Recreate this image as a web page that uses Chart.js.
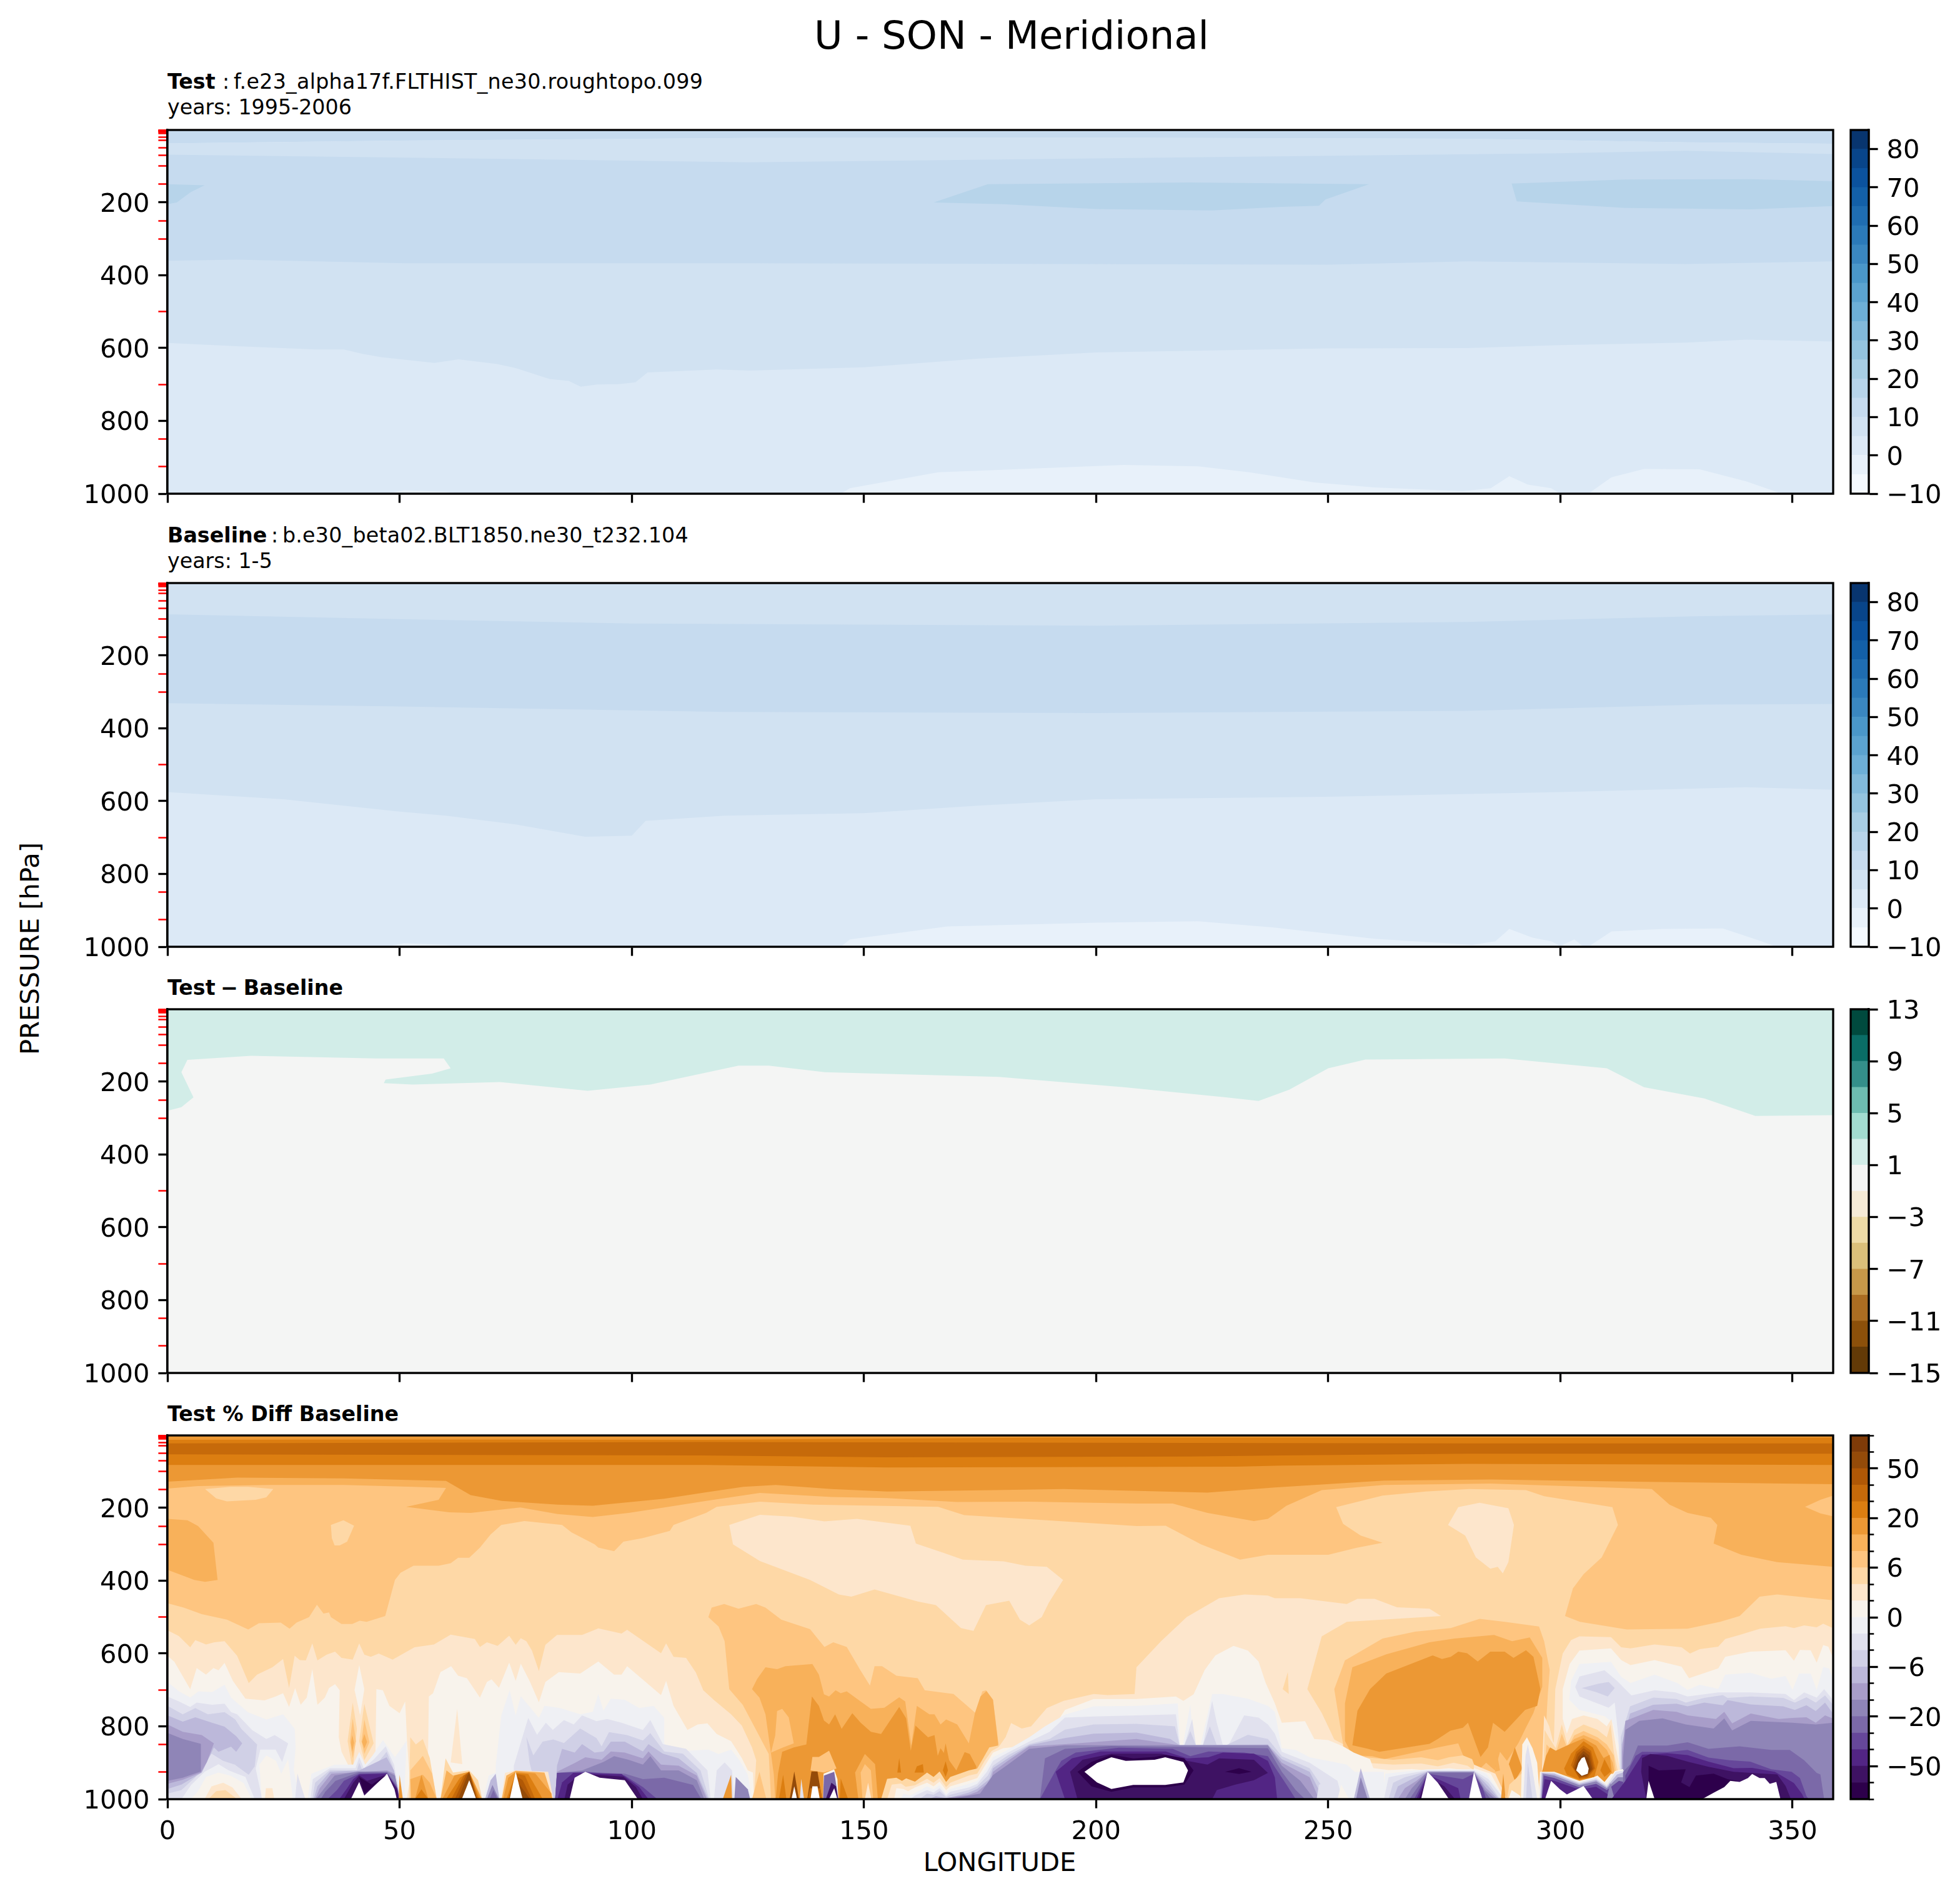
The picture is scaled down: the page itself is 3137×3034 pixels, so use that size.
<!DOCTYPE html>
<html><head><meta charset="utf-8">
<style>
html,body{margin:0;padding:0;background:#fff;width:3137px;height:3034px;overflow:hidden;font-family:"DejaVu Sans",sans-serif;color:#000}
canvas{position:absolute}
.t{position:absolute;white-space:pre;line-height:1}
.s{font-size:33.3px}
</style>
<script src="https://cdn.jsdelivr.net/npm/chart.js@4"></script>
</head><body>
<div class="t" style="left:1619px;top:26px;font-size:62.5px;transform:translateX(-50%)">U - SON - Meridional</div>
<div class="t s" style="left:268px;top:114px"><b>Test</b></div>
<div class="t s" style="left:356px;top:114px">:</div>
<div class="t s" style="left:374px;top:114px;letter-spacing:0.27px">f.e23_alpha17f.FLTHIST_ne30.roughtopo.099</div>
<div class="t s" style="left:268px;top:155px">years: 1995-2006</div>
<div class="t s" style="left:268px;top:840px"><b>Baseline</b></div>
<div class="t s" style="left:434px;top:840px">:</div>
<div class="t s" style="left:452px;top:840px;letter-spacing:0.2px">b.e30_beta02.BLT1850.ne30_t232.104</div>
<div class="t s" style="left:268px;top:881px">years: 1-5</div>
<div class="t s" style="left:268px;top:1564px;word-spacing:-3px"><b>Test − Baseline</b></div>
<div class="t s" style="left:268px;top:2246px"><b>Test % Diff Baseline</b></div>
<div class="t" style="left:48px;top:1518px;font-size:41.67px;transform:translate(-50%,-50%) rotate(-90deg)">PRESSURE [hPa]</div>
<div class="t" style="left:1600px;top:2980px;font-size:41.67px;transform:translate(-50%,-50%)">LONGITUDE</div>
<script>
/* ---------- axes ---------- */
const lonTicks=[0,50,100,150,200,250,300,350];
const pressureMajor=[200,400,600,800,1000];
const pressureLevels=[1,2,3,5,7,10,20,30,50,70,100,150,250,300,500,700,850,925];
/* ---------- colour bars ---------- */
const blueLevels=[-10,-5,0,5,10,15,20,25,30,35,40,45,50,55,60,65,70,75,80,85];
const blueTicks=[-10,0,10,20,30,40,50,60,70,80];
const blueColors=['#f4f9fe','#e8f1fa','#dce9f6','#d1e2f2','#c6dbef','#b7d4ea','#a8cee4','#94c4df','#82badb','#6dafd7','#5ba3d0','#4a97c9','#3a87c0','#2b7ab9','#1f6db1','#1360a8','#0b529e','#08458a','#08356f'];
const diffLevels=[-15,-13,-11,-9,-7,-5,-3,-1,1,3,5,7,9,11,13];
const diffTicks=[-15,-11,-7,-3,1,5,9,13];
const diffColors=['#633a07','#8c500a','#ab6d22','#c79849','#dbc07a','#eedba6','#f6ebd6','#f4f5f4','#d2ede8','#a2dcd0','#6dbcb0','#348f8a','#0a6d66','#004a3e'];
const pctLevels=[-100,-75,-50,-40,-30,-20,-15,-10,-6,-4,-2,0,2,4,6,10,15,20,30,40,50,75,100];
const pctLabeled=[-50,-20,-6,0,6,20,50];
const pctColors=['#2d004b','#3e1263','#522584','#66479a','#7b69a8','#8f85b7','#a89dc9','#bcb8da','#d0d0e6','#e1e1ee','#eff0f4','#f8f3ec','#fde6cc','#fed8a6','#fec580','#f8b15a','#ec9834','#dc7e11','#c66a0a','#b05806','#944b09','#7f3b08','#ffffff'];

/* ---------- Test panel contours [lon,hPa] ---------- */
const testTop=[[0,38],[50,30],[125,23],[200,22],[280,25],[327,35],[359,39]];
const testUpper=[[0,69],[46,76],[87,83],[125,90],[200,79],[250,72],[300,65],[327,58],[359,67]];
const testLower=[[0,360],[15,357],[51,367],[125,367],[250,371],[280,362],[327,369],[359,362]];
const testLow=[[0,586],[15,595],[32,604],[38,604],[42,616],[46,625],[57.5,641],[62.7,631],[71,644],[75,655],[82.3,685],[86.4,690],[89,706],[92.6,700],[97.2,699],[100.8,694],[103.4,667],[118.3,659],[125.4,662],[150,653],[175,629],[200,612],[250,601],[280,600],[300,592],[327,585],[340,577],[359,582]];
const testJetA=[[0,150],[8,153],[5,172],[2,200],[0,205]];
const testJetB=[[165,200],[176.7,150],[220,145],[258.8,150],[249.4,192],[248,209],[240,212],[225,222],[200,218],[180,205]];
const testJetC=[[289.5,148],[314,137],[341,136],[359,142],[359,210],[341,219],[314,215],[290.6,197]];
const testSurfA=[[145,1000],[147,985],[166,941],[178,935],[206,921],[222,925],[233,941],[247,969],[260,983],[279,993],[285,985],[289,952],[293,975],[298,985],[300,1000]];
const testSurfB=[[306,1000],[311,955],[318,932],[330,933],[340,966],[347,997],[350,1000]];
const testSurfC=[[47,1000],[51,990],[60,995],[63,1000]];
const testSurfD=[[88,1000],[94,995],[100,1000]];

/* ---------- Baseline panel contours ---------- */
const baseUpper=[[0,87],[50,100],[100,112],[200,118],[280,108],[330,92],[359,87]];
const baseLower=[[0,331],[50,340],[120,355],[200,358],[280,352],[330,335],[359,333]];
const baseLow=[[0,575],[25,595],[50,629],[60,640],[75,664],[90,698],[100,695],[103,654],[120,640],[150,633],[175,612],[200,595],[250,588],[300,575],[340,562],[359,569]];
const baseSurfA=[[145,1000],[147,980],[168,944],[200,934],[222,930],[238,947],[260,978],[281,995],[286,985],[289,951],[294,975],[298,985],[300,998],[303,980],[305,1000]];
const baseSurfB=[[306,1000],[311,958],[322,951],[335,950],[341,975],[346,997],[350,1000]];
const baseSurfC=[[47,1000],[51,990],[60,995],[63,1000]];

/* ---------- Difference panel contour ---------- */
const diffEdge=[[0,280],[3,270],[5.6,243],[3,174],[4.3,140],[18,129],[45,136],[59.5,136],[61,163],[57,178],[47,194],[46.6,204],[52.8,208],[71.6,201],[90.5,225],[104,208],[123,156],[129.5,156],[141.6,174],[179,187],[206,215],[228,243],[235,253],[241.6,222],[250,163],[258,139],[288,136],[310,163],[318,215],[331,246],[342,294],[359,292]];

/* ---------- % difference panel: upper bands ---------- */
const pctB=[[0,13],[50,12],[116,13],[150,10],[190,7],[240,7],[359,7]];
const pctC=[[0,23],[115,19],[200,21],[280,23],[359,23]];
const pctD=[[0,53],[115,56],[155,61],[220,59],[240,56],[280,51],[359,51]];
const pctE=[[0,82],[116,82],[155,89],[230,87],[240,84],[280,79],[359,82]];
const pctF=[[0,128],[15,117],[38,119],[60,126],[65.3,165],[72,181],[84,191],[91.6,194],[107,175],[116,157],[124,142],[131,137],[143,148],[155,155],[178,151],[193,148],[224,158],[238.5,144],[262,125],[285,122],[316,128],[359,135]];
const pctG=[[0,147],[6.6,140],[22,137],[38,137],[53,142],[60,145],[58.4,178],[51.4,197],[60.7,212],[65.3,214],[76,199],[84,217],[91.6,225],[99.3,214],[107,199],[116,181],[127.6,159],[143,170],[155,173],[170,184],[185.5,183],[209,188],[216.5,188],[224,214],[234,236],[237,230],[238.5,217],[241,194],[248.6,151],[262,137],[285,133],[319.7,148],[323.5,191],[327.4,214],[332.4,227],[333.8,247],[333,298],[339,329],[346.7,349],[359,362]];
const pctLeftBlob=[[0,230],[4.3,234],[6.6,250],[9.9,296],[10.8,398],[8.1,403],[5.8,398],[0,370]];
const pctRightBlob=[[352.7,197],[356,178],[359,165],[359,224],[356,215]];
const pctH=[[0,462],[3.5,474],[7.4,492],[12.8,507],[17.4,534],[19.7,517],[24.4,515],[26.3,532],[27.8,515],[30.5,500],[32.2,466],[33.6,490],[34.8,487],[35.2,500],[37.5,519],[39.8,519],[41.4,510],[42.9,513],[46.9,497],[49,398],[50.2,378],[53,359],[58.4,359],[61,352],[62.6,337],[65,337],[67.3,309],[69.6,273],[71.9,247],[76.9,236],[85,247],[87,267],[92,300],[92.8,309],[96.2,319],[98.2,293],[102.4,283],[108.2,263],[109,247],[116,214],[118.3,197],[127.6,183],[139,191],[166,197],[171.6,220],[189.4,234],[208.7,250],[215,249],[222.6,300],[231,342],[237,329],[250,329],[256,310],[261.7,296],[257,276],[253.2,244],[251.7,198],[261.7,166],[271,155],[280.3,148],[292.6,151],[296.5,168],[311.2,198],[312.4,247],[308.9,336],[305,382],[302.7,421],[301,497],[304.2,513],[314.3,534],[327.4,532],[334.4,513],[338.6,497],[342.9,444],[346.7,438],[359,454]];
const pctHBlobA=[[8.1,148],[10.5,174],[12.8,182],[19,178],[21.3,171],[22.8,148],[17.4,142],[13.5,142]];
const pctHBlobB=[[35.2,247],[37.9,234],[40.2,249],[38.7,293],[37.1,303],[36,303],[35.4,283]];
const pctPaleA=[[121,247],[127.6,219],[134.5,224],[141.5,237],[148.5,230],[160,249],[161.2,298],[167,323],[171.3,342],[180.1,347],[184.8,359],[189.4,362],[192.9,398],[189.8,461],[188.3,500],[185.6,523],[183.6,507],[181.3,455],[176.3,467],[173.6,538],[170.9,530],[165.5,467],[161.6,457],[152.3,424],[147.3,444],[144.6,438],[138.4,398],[127.6,346],[121.8,300]];
const pctPaleB=[[278,198],[282.6,186],[288.8,201],[290,247],[288.8,349],[287.6,380],[286.5,362],[284.9,367],[281.8,336],[279.5,276],[275.8,247]];

/* ---------- % difference: western lower troposphere ---------- */
const pctW12=[[0,536],[2.45,552],[4.9,583],[6,563],[8.3,575],[10.1,569],[12.3,566],[15,606],[17.5,681],[19.3,658],[22.6,638],[24.9,615],[26.2,695],[27.4,606],[28.5,618],[29.8,619],[31.2,572],[32.3,619],[34.3,603],[36.1,595],[37.5,612],[39.9,617],[41.3,572],[42.4,603],[43.8,609],[45.5,600],[48.5,617],[53.2,583],[57.4,575],[61,548],[64,555],[66.2,560],[67.3,582],[68.8,569],[71.1,579],[73.6,551],[75,576],[76.1,558],[77.3,566],[78.5,592],[80,648],[81.4,576],[83.9,549],[89.3,549],[92.8,531],[97.8,545],[99,535],[106.3,599],[107.4,572],[109,609],[111.7,612],[113.8,652],[115.4,701],[117.8,729],[121.4,767],[123.7,798],[125.9,858],[126.8,893],[126.3,1000],[0,1000]];
const pctW11a=[[0,606],[1.5,623],[4.9,698],[6.3,640],[8.3,658],[9.9,640],[11,646],[12.3,626],[14.1,675],[16.8,724],[20.9,729],[23.3,718],[24.9,709],[26.2,747],[27.5,695],[28.7,741],[30,721],[31.2,643],[32.3,741],[33.9,721],[34.8,695],[36.1,684],[37.1,701],[36.9,830],[37.5,870],[39.5,921],[40,1000],[0,1000]];
const pctW11b=[[41.3,632],[42.4,698],[41.5,770],[40.3,700]];
const pctW11c=[[45,698],[46.4,701],[47.8,744],[50,764],[51.2,732],[51.6,840],[52.2,950],[51.5,1000],[44,1000],[44.8,880]];
const pctW11d=[[56.3,718],[57.2,709],[58.8,651],[61.1,635],[62.6,661],[64.5,668],[67.3,721],[68.8,678],[69.8,671],[71.4,694],[73.6,625],[75,675],[76.1,628],[78.1,678],[80,734],[81.4,678],[84.3,651],[88.9,655],[92.8,622],[96.2,658],[97.8,658],[99,635],[106.3,714],[107.4,675],[109,744],[112,810],[114.2,795],[116.3,792],[118.3,821],[121.4,841],[123.7,887],[125,921],[126.1,927],[126.3,1000],[56,1000]];
const pctSpike=[[62.4,752],[63.5,904],[61,899]];
const pctSpikeA13=[[39.9,735],[40.8,807],[39.9,921],[38.8,841]];
const pctSpikeA14=[[39.9,778],[40.6,841],[39.9,887],[39.3,841]];
const pctSpikeA15=[[39.8,824],[40.2,845],[39.8,870],[39.5,845]];
const pctSpikeB13=[[42.4,738],[44.4,847],[42.4,893],[41.3,841]];
const pctSpikeB14=[[42.4,781],[43.5,844],[42.4,876],[41.8,841]];
const pctSpikeB15=[[42.4,821],[43,843],[42.4,861],[41.9,843]];
/* lilac lobe at the dateline edge */
const pctL10=[[0,678],[2.5,704],[4.9,721],[6.7,704],[9.6,706],[12.3,686],[13.7,721],[17.3,761],[21.3,781],[24.9,767],[27.4,807],[27.6,858],[27.2,920],[28.5,1000],[0,1000]];
const pctL9=[[0,718],[2.5,732],[4.9,747],[6.3,735],[9.6,741],[12.3,738],[13.7,761],[15,767],[18.2,810],[21.3,835],[23.1,824],[26,847],[24.7,898],[23.3,864],[20,864],[19,916],[20.4,1000],[0,1000]];
const pctL8=[[0,744],[3.3,767],[6,750],[8.7,767],[12.3,761],[14.6,781],[15.9,807],[19.3,850],[18.8,910],[17.5,933],[14.5,905],[12,895],[9.5,875],[6,940],[3,975],[0,985]];
const pctL7=[[0,770],[3.3,787],[6,775],[9.6,790],[12.3,801],[14.8,827],[16.1,847],[14.8,870],[13.7,856],[11,870],[10,858],[7.4,927],[3,960],[0,972]];
const pctL6=[[0,795],[3.3,815],[7.4,824],[10,847],[8.5,898],[7.2,927],[3.3,947],[0,958]];
const pctL5=[[0,818],[3.3,835],[7.2,848],[7.2,924],[3.3,941],[0,950]];
const pctHill10=[[5.1,961],[8,925],[11,904],[13.2,921],[16.8,939],[18.8,1000],[3,1000]];
const pctHill11=[[6.5,980],[8.3,939],[11,927],[13.7,936],[16.4,956],[18.2,1000],[5,1000]];
const pctHill12=[[8,1000],[9.5,965],[12,955],[14,968],[16,1000]];
const pctHill13=[[8.8,1000],[10.5,978],[12.5,975],[15,1000]];
const pctCol11=[[20.3,1000],[19.8,905],[21.3,880],[23.4,895],[24.5,930],[26,890],[27,1000]];
const pctCol12=[[21,1000],[21.2,970],[22.6,970],[23,1000]];
const pctCol9=[[27.5,1000],[28,930],[28.7,960],[29.7,1000]];
/* mound 32-50E */
const pctMA10=[[30.2,1000],[31,930],[36,905],[40,905],[41.3,870],[42.6,905],[44.2,880],[46.4,838],[49,885],[51.5,840],[51,1000]];
const pctMA9=[[30.8,1000],[31.3,945],[35,915],[40.5,915],[41.3,885],[42.3,915],[44.5,890],[47,855],[48.8,905],[50.2,1000]];
const pctMA8=[[31.2,1000],[31.8,955],[35,920],[40.8,921],[41.3,900],[42,921],[45,905],[47.2,870],[48.5,910],[50.2,1000]];
const pctMA7=[[31.5,1000],[32.3,965],[35,925],[41.3,921],[47.2,885],[48.8,921],[50.1,1000]];
const pctMA6=[[31.8,1000],[32.8,970],[35.3,930],[47.3,921],[48.9,930],[50.1,1000]];
const pctMA5=[[32,1000],[33.5,975],[36,935],[41,924],[47.3,924],[49,935],[50,1000]];
const pctMA4=[[33,1000],[34,980],[36.2,950],[41.3,926],[47.3,926],[49.3,960],[50,1000]];
const pctMA3=[[34.5,1000],[36.5,975],[38,950],[41.3,930],[47.3,928],[49.4,970],[50,1000]];
const pctMA2=[[37,1000],[38.7,970],[40,945],[41.3,932],[47.3,930],[49.5,970],[49.9,1000]];
const pctMA1=[[38,1000],[40,955],[41.3,935],[43,950],[47.3,932],[49.5,975],[49.8,1000]];
const pctMA0=[[41.3,940],[42.4,985],[47.3,932],[44,960]];
const pctMAw=[[39.5,1000],[41.3,953],[42.4,990],[47.3,930],[48.9,973],[49.4,1000]];
const pctSmall=[[50,933],[50.7,1000],[49.8,1000]];
/* columns 52-57E */
const pctC13=[[52.3,830],[53.5,850],[55,835],[56.5,887],[58,1000],[52,1000]];
const pctC14=[[52.3,921],[55,881],[57,930],[58,1000],[52.3,1000]];
const pctC15=[[52.3,945],[55,933],[56.5,955],[58,1000],[52.5,1000]];
const pctC16=[[53.3,1000],[54.7,933],[56.2,1000]];
const pctC17=[[53.3,1000],[54.7,973],[56.2,1000]];
/* mound 58-67E */
const pctMB13=[[58.8,1000],[59.9,888],[61.5,927],[65,921],[66.9,948],[67.8,1000]];
const pctMB15=[[58.8,1000],[60.1,921],[61.5,935],[65,925],[67.8,1000]];
const pctMB16=[[59.2,1000],[61.8,935],[65,925],[67.6,1000]];
const pctMB17=[[60,1000],[63,941],[65,925],[67.2,1000]];
const pctMB18=[[61.1,1000],[63.8,935],[65,925],[66.9,1000]];
const pctMB19=[[61.9,1000],[64.2,935],[65,925],[66.7,1000]];
const pctMB20=[[62.6,1000],[64.6,935],[65,928],[66.6,1000]];
const pctMBw=[[63.4,1000],[65,948],[66.5,1000]];
/* lilac column 68-72E */
const pctK10=[[68,1000],[69.2,935],[71.1,925],[72,1000]];
const pctK7=[[68.4,1000],[69.6,948],[70.7,930],[71.5,1000]];
const pctK5=[[68.8,1000],[70,961],[71.4,1000]];
const pctK4=[[69.4,1000],[70.2,975],[71.1,1000]];
/* eastern-side lilac 71-118E */
const pctQ10=[[70.7,908],[71.9,770],[73.7,701],[75,770],[76.1,717],[80,777],[81.2,744],[84.6,750],[88.9,767],[91.6,760],[92.8,711],[93.9,757],[95.5,724],[98.5,727],[101.6,750],[104.7,744],[107,777],[107,849],[112,867],[116.5,864],[118.7,876],[121.4,864],[123.2,893],[125,933],[125.9,1000],[70.7,1000]];
const pctQ9=[[74.6,908],[77.7,777],[79.6,823],[81.5,790],[83,810],[85.4,783],[87.5,795],[89.3,770],[92.4,786],[94.7,780],[97.8,790],[102.4,810],[104,783],[106.7,849],[111.7,862],[116.3,921],[117,1000],[74.6,1000]];
const pctQ8=[[77.3,829],[78.8,880],[80.8,842],[83.1,836],[85.4,846],[88.9,806],[92.4,832],[93.5,855],[95.1,816],[99,824],[102.4,839],[104,819],[107,869],[111,875],[114.8,921],[116.7,1000],[80,1000],[78,900]];
const pctQ7=[[83.9,908],[85,862],[87.7,872],[89.3,849],[92,872],[93.9,869],[95.5,842],[98.5,842],[102.4,869],[103.6,849],[106.7,875],[110.1,888],[114,928],[116.5,1000],[83.5,1000]];
const pctQ6=[[83.9,925],[87.7,901],[90,885],[93.5,892],[95.5,869],[98.5,872],[102.4,888],[103.6,869],[106.3,905],[110.1,908],[114,935],[116.2,1000],[83.5,1000]];
const pctQ5=[[83.9,928],[89.3,921],[93.9,898],[96.2,882],[99.3,892],[102.4,905],[104,882],[106.3,921],[110.1,921],[114,948],[115.6,1000],[83.5,1000]];
const pctQ4=[[83.9,928],[90,925],[98.5,930],[102.4,945],[107,941],[113.2,961],[115,1000],[83.5,1000]];
const pctQ3=[[83.9,928],[90,925],[98.5,935],[102.4,967],[105.5,1000],[83.5,1000]];
const pctQ2=[[84,1000],[85,954],[87.4,928],[97.8,931],[101.6,967],[103.6,1000]];
const pctQ1=[[85.5,1000],[86.2,960],[89,930],[98.2,938],[100.9,967],[102.4,1000]];
const pctQw=[[86.6,1000],[87.7,941],[90,925],[93.1,941],[98.5,948],[101.3,1000]];
/* mound 72-83E */
const pctMC12=[[71.9,1000],[72.7,928],[75,921],[82,925],[83.1,1000]];
const pctMC15=[[72,1000],[73,935],[75,922],[81.2,927],[83,1000]];
const pctMC16=[[72.3,1000],[73.4,941],[75,925],[79.2,929],[82.7,984],[82.8,1000]];
const pctMC17=[[73,1000],[75,928],[77.7,931],[80.4,990],[80.8,1000]];
const pctMC18=[[73.4,1000],[75,930],[77,935],[79.2,1000]];
const pctMC19=[[73.5,1000],[75,935],[76.5,948],[78.5,1000]];
const pctMC20=[[73.6,1000],[75,945],[78.1,1000]];
const pctMCw=[[73.7,1000],[75,925],[76.5,1000]];

/* ---------- central orange 116-180E ---------- */
const pctO14=[[116.5,500],[117.2,474],[119.9,464],[123,477],[126.8,464],[128.8,474],[132.2,507],[138.4,533],[141.5,582],[143.4,569],[146.3,582],[149.2,645],[151.3,688],[152.3,635],[153.9,635],[157,661],[161.6,668],[163.1,701],[169.3,711],[174,763],[175.5,704],[176.3,701],[177.8,727],[179,849],[179,1000],[130,1000],[129.5,876],[126.4,801],[123.9,741],[121,698],[120,566],[118.7,526]];
const pctO15=[[125.9,698],[127,670],[128.8,638],[131.3,643],[133.1,635],[138.9,629],[140.3,658],[141.4,712],[142.5,718],[143.9,701],[145,709],[146.3,704],[149.3,732],[151.5,752],[154.4,749],[157.6,720],[158.9,732],[160.2,853],[161.4,744],[164.1,767],[165.2,767],[166.5,795],[167.7,781],[170.1,795],[172.6,847],[173.9,764],[175.1,718],[176.4,703],[177.8,727],[178.9,847],[178,1000],[130.9,1000],[130.6,933],[130,876],[128.8,767],[127.5,721]];
const pctOlobe=[[131.3,758],[132.4,752],[133.8,775],[134.9,847],[132.6,858],[130,872],[130.9,825]];
const pctO16=[[131,1000],[131.5,930],[132.4,870],[134.9,858],[137.6,850],[138.8,718],[140.3,744],[141.4,784],[142.5,795],[143.8,767],[145.2,807],[147.5,764],[149.3,790],[151.5,815],[153.7,821],[157.6,747],[159.1,778],[160.1,867],[161.1,798],[163.8,830],[165.2,824],[165.9,881],[166.5,860],[169.9,921],[171.7,871],[172.8,876],[174.2,910],[174.2,1000]];
const pctOspike=[[167.6,847],[168.8,921],[167.6,962],[166.5,921]];
const pctOspot1=[[157.6,887],[158,927],[157.2,927]];
const pctOspot2=[[160.9,927],[161.4,910],[162.7,904],[162.9,927]];
const pctOspot3=[[167.6,896],[168.1,921],[167.6,939],[167,921]];
const pctLobe15=[[148.1,927],[150.2,876],[152.4,904],[153,1000],[148.8,1000]];
const pctLobe14=[[149.3,927],[150.2,904],[151.5,921],[152,1000],[149.7,1000]];
const pctLobe12=[[150.2,1000],[150.9,955],[151.6,1000]];
const pctS17a=[[131.7,1000],[132.6,933],[133.3,1000]];
const pctS20a=[[134,1000],[135,924],[136,1000]];
const pctSwa=[[134.4,1000],[135,965],[135.6,1000]];
const pctS9=[[136.2,1000],[136.5,944],[137.1,1000]];
const pctS16b=[[138.5,921],[138.9,884],[140.3,884],[142.5,867],[144.1,916],[141.4,927]];
const pctS20b=[[137.8,1000],[138.7,924],[140,924],[141,1000]];
const pctS18b=[[137.9,1000],[138.4,970],[140.6,970],[141,1000]];
const pctSwb=[[138.5,1000],[138.9,965],[140,965],[140.5,1000]];
const pctS11c=[[141.3,930],[143.6,918],[144.3,945],[144.5,1000],[141.2,1000]];
const pctS4c=[[141.4,935],[143.6,925],[144.5,1000],[141.2,1000]];
const pctS1c=[[141.8,1000],[143,955],[144,965],[144.4,1000]];
const pctSwc=[[142.5,1000],[143.6,970],[144.3,1000]];
const pctS17d=[[144.8,1000],[145,943],[146.6,1000]];
const pctE16a=[[119.6,1000],[121.4,933],[121.6,1000]];
const pctE9a=[[118.3,921],[120,899],[121.6,921],[122,1000],[117.7,1000]];
const pctE5a=[[122.1,1000],[122.4,939],[125,973],[125.5,1000]];
const pctE14a=[[125.9,1000],[127.5,925],[129,1000]];

/* ---------- ridge and Pacific dome 153-262E ---------- */
const pctR13=[[153.7,1000],[155,944],[157,941],[158.2,950],[159.1,943],[161,952],[163.6,927],[165,939],[166.3,924],[167.7,953],[168.6,939],[172.6,921],[174.4,916],[175.7,887],[177,858],[178.9,853],[181,850],[181,1000]];
const pctR12=[[155,1000],[156,960],[158,957],[159,966],[161,962],[163.6,944],[165,955],[166.3,942],[167.7,967],[168.6,955],[172.6,935],[174.4,930],[176,895],[177.5,868],[179,857],[180.5,830],[181.7,791],[184,806],[186,800],[189.4,750],[193,730],[199.5,711],[202.5,714],[208.3,711],[208.7,638],[214,566],[219.5,500],[226.5,448],[232,438],[237,441],[238.5,448],[244,448],[254,464],[256.3,450],[260,450],[264.8,473],[271.8,477],[274.3,497],[261.7,507],[254,513],[248.6,553],[245.5,698],[248.6,763],[251.3,836],[253.2,849],[258,900],[258,1000]];
const pctR11=[[156.5,1000],[157,970],[158.5,972],[159.5,978],[161,968],[163.6,955],[165,965],[166.3,952],[167.7,975],[168.6,965],[172.6,950],[174.4,942],[176.2,905],[177.8,872],[180,860],[187,850],[189,835],[191,800],[193.3,755],[199.5,725],[208.7,725],[217.2,718],[218.8,730],[221,712],[223.4,645],[225.7,605],[229.6,579],[232.7,592],[235,622],[236.5,680],[238.5,737],[240,790],[245,786],[247,835],[250,838],[253.2,855],[255.5,872],[259,890],[260,925],[260,1000]];
const pctR11s=[[241.3,651],[241.5,711],[240.2,698]];
const pctR10=[[158,1000],[158.5,985],[160,990],[161.5,980],[163.6,965],[165,973],[166.3,962],[167.7,985],[168.6,972],[172.6,958],[174.4,950],[176.4,915],[177.8,885],[180.5,868],[185.6,830],[189,800],[193.3,768],[199.5,745],[208.7,744],[217.6,737],[218.1,852],[218.7,852],[220.3,740],[221,852],[222.5,852],[225,711],[227.3,711],[232.7,724],[237,744],[238.5,760],[240,860],[243,865],[246,885],[250,895],[254,905],[262,1000]];
const pctR9=[[160,1000],[161,990],[163.6,975],[165,982],[166.3,970],[167.7,990],[168.6,980],[172.6,968],[174.4,958],[176.5,925],[177.8,895],[181,872],[185.6,842],[190,815],[193.3,776],[199.5,773],[208.7,770],[217.2,767],[218,852],[219,852],[220.7,780],[221.5,852],[223,852],[225,730],[226,790],[227.3,852],[228.5,852],[231.9,770],[235,776],[237,795],[238.5,820],[240,870],[246,900],[252,950],[253,1000]];
const pctR8=[[162,1000],[163.6,985],[165,988],[166.3,978],[167.7,994],[168.6,988],[172.6,975],[174.4,965],[176.7,935],[177.8,908],[181,880],[185.6,849],[190,835],[193.3,809],[199.5,795],[208.7,793],[217,800],[218,852],[219,852],[220.3,813],[221.5,852],[223,852],[224.5,800],[226,852],[228,852],[232.7,823],[237,835],[240,882],[246,915],[250,990],[250,1000]];
const pctR7=[[164,1000],[165.5,992],[168,998],[172.6,982],[174.4,972],[177,945],[177.8,915],[181,888],[185.6,852],[193.3,832],[199.5,820],[208.7,817],[216,835],[218,852],[237,850],[240,890],[246,925],[249,1000]];
const pctR6=[[166,1000],[172.6,988],[174.4,980],[177.3,950],[177.8,925],[181,895],[185.6,855],[193.3,849],[208.7,835],[218,852],[237,852],[240,900],[246,940],[248,1000]];
const pctR5=[[168,1000],[172,992],[175,985],[177.8,934],[181,905],[185.6,862],[193.3,852],[237,852],[240,908],[244,950],[247,1000]];
const pctR4=[[187.9,1000],[189,888],[193.3,862],[203.3,854],[237,860],[240,925],[243,975],[245,1000]];
const pctR3=[[187.9,1000],[191.3,921],[192.5,895],[195.6,872],[204.9,859],[216.5,862],[220.3,882],[224.2,869],[231.9,872],[237,882],[238.5,912],[241,960],[243,1000]];
const pctR2=[[193.3,1000],[191.3,925],[194.8,888],[201,869],[215,869],[219.6,888],[224.2,885],[227.3,872],[234,875],[237,895],[238.5,940],[239,1000]];
const pctR1=[[194.4,925],[197.1,892],[203.3,875],[214.1,875],[219.6,895],[224,905],[226.5,888],[234,892],[237,928],[234,948],[230,960],[226,975],[225,1000],[196,1000]];
const pctR0=[[196,925],[199,898],[203.3,878],[208,888],[212.6,884],[214.9,878],[219,888],[221,921],[219,960],[214.9,968],[208,968],[203.3,980],[199,965]];
const pctRw=[[197.5,925],[200.2,901],[203.3,885],[206.4,895],[212.6,892],[214.9,885],[218.8,898],[219.8,921],[218.8,954],[214.9,961],[208,961],[203.3,972],[200.2,954]];
const pctRlens=[[227.8,925],[230.8,915],[233.5,925],[230.8,931]];

/* ---------- tower 250-297E ---------- */
const pctT14=[[251.3,698],[253.6,619],[261.7,559],[268.7,540],[276.4,530],[282.6,505],[288,513],[295.4,526],[296.5,566],[297.7,645],[297.3,711],[297,780],[297,1000],[253.2,1000],[253.2,849]];
const pctT15=[[253.6,737],[255.2,638],[262.5,602],[271.8,569],[277.2,559],[285.7,549],[289.6,566],[293.4,556],[296.1,612],[296.1,691],[294.2,763],[292.6,803],[291,845],[288.5,895],[287,870],[285.9,921],[284,900],[282,925],[280.5,925],[278,847],[273.6,858],[262,890],[259.5,882],[255.2,880],[253.6,840]];
const pctT16=[[255.2,852],[256.3,757],[259,698],[262.5,655],[272.5,605],[274.5,615],[276.4,609],[278,595],[279.9,599],[282.2,622],[284.9,595],[288,595],[289.9,612],[292.6,591],[294.2,609],[295.7,698],[295,744],[292.4,755],[288,815],[285.5,790],[284.4,858],[282.8,884],[280.1,790],[279,804],[276.3,812],[273.6,835],[271.8,848],[261,870],[258.6,862]];
const pctTdrop16=[[290.2,858],[291.8,916],[290.2,950],[288.9,904]];
const pctTdrop15=[[286.4,878],[287,921],[285.9,925]];
const pctW13=[[258,885],[264,892],[270,885],[273.6,893],[276,885],[279,880],[281,890],[282,926],[282,1000],[258,1000]];
const pctW12b=[[258,900],[264,905],[270,902],[273.6,910],[277,900],[280,908],[282,926],[282,1000],[258,1000]];
const pctW11e=[[258,912],[263,920],[268,917],[271,921],[276,915],[280,921],[282,926],[282,1000],[258,1000]];
const pctCol10=[[253,1000],[254,925],[262,925],[262,1000]];
const pctColA9=[[247.5,1000],[248,960],[249.5,955],[251.5,1000]];
const pctColB7=[[255.5,1000],[257,915],[259,1000]];
const pctColB5=[[256,1000],[257,940],[258.5,1000]];
const pctColw=[[252,1000],[252.8,960],[254.5,1000]];
/* mound 261-287E */
const pctF12=[[281.4,905],[286,930],[288.5,1000],[281,1000]];
const pctF11=[[281.4,915],[285,930],[288,1000],[281,1000]];
const pctN10=[[261.5,1000],[262.3,930],[266,925],[271.4,918],[281.4,918],[284,930],[287.5,990],[288,1000]];
const pctN9=[[262,1000],[263,940],[266,932],[271.4,921],[281.4,921],[284.5,945],[287.3,990],[287.5,1000]];
const pctN8=[[263,1000],[264,955],[266.5,940],[271.4,923],[281.4,923],[284.5,955],[287,1000]];
const pctN7=[[264,1000],[265,965],[268,945],[271.4,924],[281.4,924],[284.5,965],[286.8,1000]];
const pctN6=[[265,1000],[266.5,970],[269,950],[271.4,925],[281.4,925],[284,970],[286.5,1000]];
const pctN5=[[266.5,1000],[268,970],[271.4,925],[281.4,925],[283.8,975],[286,1000]];
const pctN4=[[267.5,1000],[271.4,928],[281.4,928],[283.5,975],[285,1000]];
const pctN3=[[268.5,1000],[271.4,930],[279,945],[281.4,930],[283.3,970],[284,1000]];
const pctN2=[[269,1000],[271.4,932],[278,970],[278.5,1000]];
const pctN1=[[269.5,1000],[271.4,936],[275,965],[277.3,1000]];
const pctNw1=[[270,1000],[271.4,925],[273.6,955],[276,1000]];
const pctNw2=[[280.3,1000],[281.4,925],[283.2,1000]];
const pctG16=[[287.2,1000],[287.7,930],[288.2,1000]];
const pctG13=[[288.5,1000],[289,960],[292,925],[292,1000]];
const pctG11=[[288.8,1000],[289.5,975],[291.3,990],[291.5,1000]];
const pctH11=[[291.5,1000],[291.8,850],[292.8,830],[294,860],[295,900],[295.6,1000]];
const pctH9=[[292,1000],[292.5,880],[293,850],[294,920],[295,1000]];
const pctH8=[[292.6,1000],[293,900],[294,1000]];

/* ---------- eastern side 298-359E ---------- */
const pctX12=[[297,1000],[298.5,900],[298.9,698],[300.5,600],[302.3,563],[304.1,553],[310.9,555],[313.1,583],[315.1,586],[320.3,575],[326.1,583],[327.9,600],[330,588],[334,581],[335.5,560],[338.6,549],[343,532],[348.5,525],[350.3,530],[352.5,523],[355.2,528],[356.6,518],[359,532],[359,1000]];
const pctX11=[[300.5,1000],[300.5,698],[302,629],[304.1,592],[310.9,586],[313.1,618],[315.1,632],[320.3,618],[326.1,636],[327.7,668],[330,658],[334,641],[335.5,609],[340.9,595],[348.5,591],[350.3,620],[351.6,590],[353.9,591],[355.2,625],[356.6,577],[357.7,581],[359,620],[359,1000]];
const pctX10=[[301.9,727],[302.3,675],[304.1,629],[310.9,623],[313.1,664],[315.1,681],[320.3,658],[325.2,681],[327.4,700],[330,686],[334,697],[335.5,658],[340.9,653],[345.4,669],[348.5,662],[350,700],[351.4,655],[353.9,655],[355.2,700],[356.6,637],[357.9,641],[359,683],[359,1000],[313,1000],[313.5,920],[313,870],[312,830],[311.3,790],[309.5,772],[304.1,755]];
const pctX9=[[303.2,692],[304.1,663],[309.5,646],[312.2,675],[315.3,715],[320.3,701],[324.8,707],[327.4,718],[334,707],[340.9,707],[348.5,711],[350.3,728],[352.5,707],[355.2,721],[356.8,698],[359,732],[359,1000],[313,1000],[312.5,830],[311.7,735],[310.4,749],[304.1,718]];
const pctX8blob=[[304.6,695],[308.2,683],[310.4,678],[311.7,695],[310.2,718],[307.7,706]];
const pctX8=[[313,830],[315,745],[320,721],[325,725],[327,735],[331,722],[335,714],[336,722],[341,718],[348,722],[350.5,735],[353,720],[355,735],[357,715],[359,745],[359,1000],[313,1000]];
const pctX7=[[313.2,850],[315,765],[320,741],[325,738],[327.4,745],[331,735],[335,742],[336,728],[341,740],[348,745],[350.5,755],[353,742],[355,758],[357,735],[359,770],[359,1000],[313.2,1000]];
const pctX6=[[313.3,870],[314,785],[320,755],[325,760],[327.4,770],[333.5,780],[335.3,760],[337,792],[341,765],[347,780],[350,777],[353,775],[355,790],[357,770],[359,780],[359,1000],[313.3,1000]];
const pctX5=[[313.5,887],[314,810],[317,785],[322,778],[327,795],[333,806],[335.3,778],[337,811],[341,785],[350,790],[355,795],[359,790],[359,1000],[313.5,1000]];
/* mound 296-313E */
const pctY12=[[296,930],[296.5,770],[297.6,800],[298.5,845],[300.3,770],[301.4,820],[302.5,780],[305,770],[308,780],[310,800],[311,780],[312,860],[313,930]];
const pctY13=[[296.3,930],[296.6,810],[297.5,830],[299,860],[300.3,795],[301.5,850],[303,810],[305,795],[308,810],[310,830],[310.8,795],[311.5,870],[312.5,930]];
const pctY14=[[296.5,930],[297,850],[299,875],[300.3,820],[301.5,860],[303,825],[305,813],[308,830],[310,850],[311.5,880],[312,930]];
const pctY15=[[296.7,930],[297.5,860],[299,880],[301,860],[303,835],[305,824],[308,840],[310,865],[311.3,900],[311.7,930]];
const pctY16=[[296,927],[296.9,881],[297.8,858],[299,867],[301.4,853],[305,833],[307.7,853],[309.3,887],[310.6,878],[311.1,927],[309.5,953],[308,935],[304.1,956],[298.3,927]];
const pctY17=[[300.8,916],[302.3,875],[305,841],[307,858],[308.2,898],[307.3,939],[304.1,947],[301.4,933]];
const pctY17b=[[308.6,921],[309.5,890],[310.9,924],[309.5,939]];
const pctY18=[[302.3,907],[303.4,870],[305,853],[306.6,867],[307.5,916],[305.9,941],[304.1,944]];
const pctY19=[[302.7,912],[303.6,876],[305,860],[306.4,872],[307.2,916],[305.7,938],[304.1,941]];
const pctY20=[[303,916],[303.8,884],[305,868],[306.2,880],[306.9,918],[305.8,934],[304.4,938]];
const pctY21=[[303.2,919],[303.9,892],[305,876],[306,888],[306.5,918],[305.8,932],[304.5,937]];
const pctYw=[[303.4,921],[303.9,901],[304.6,887],[305.2,884],[306.1,916],[305.9,930],[304.6,936]];
/* ribbon under the mound */
const pctZ11=[[295.3,1000],[295.6,925],[298.7,925],[304.1,950],[307.7,938],[310,958],[311.7,923],[313.5,917],[313.5,1000]];
const pctZ9=[[295.5,1000],[295.8,926],[298.7,927],[304.1,954],[307.7,942],[310,962],[311.9,925],[313.7,921],[313.7,1000]];
const pctZ7=[[295.7,1000],[296,928],[298.7,930],[304.1,958],[307.7,947],[310,966],[312.2,932],[314,925],[314,1000]];
const pctZ5=[[295.9,1000],[296.2,930],[298.7,935],[304.1,962],[307.7,951],[310,970],[312.4,940],[314,940],[314.3,1000]];
const pctZ3=[[296,1000],[296.4,935],[298.7,942],[304.1,968],[307.7,958],[310,975],[312.6,950],[314.5,955],[315,1000]];
const pctZ2=[[296,1000],[296.6,945],[298.7,950],[304.1,974],[307.7,966],[310,985],[311,1000]];
const pctZw=[[296.7,1000],[298,950],[299.9,973],[301.4,987],[305,964],[307,1000]];
const pctZ5b=[[310,1000],[310.7,955],[311.7,1000]];
/* eastern lower bands */
const pctX4=[[313.5,925],[315,905],[316.7,853],[323,853],[327.4,844],[331.9,862],[338.6,855],[345.4,865],[349.4,865],[352.5,893],[355.2,928],[356,932],[356.8,1000],[313.5,1000]];
const pctX3=[[314,935],[316.2,881],[317.6,870],[323,871],[327.4,865],[331.9,886],[336.4,893],[340.9,897],[345.4,918],[349.8,925],[351.6,942],[353,992],[353.5,1000],[314,1000]];
const pctX2=[[314,950],[316.5,900],[317.6,878],[323,874],[327.4,879],[331.9,897],[337.3,915],[341.3,914],[346.2,925],[348.5,942],[350.3,956],[352,985],[352.6,1000],[311,1000]];
const pctX1=[[318.5,1000],[317.4,925],[317.6,887],[319.4,876],[323,881],[327.4,897],[331.9,911],[337.3,925],[342.6,929],[346.7,932],[348.5,964],[349.4,992],[349.6,1000]];
const pctX0=[[319,1000],[319,908],[321.2,921],[327,918],[326,954],[327.8,967],[329.2,935],[333,930],[336,945],[338,950],[335,975],[330.5,1000]];
const pctXw1=[[330.5,1000],[333.2,981],[335.3,967],[336.6,950],[338.6,953],[340.4,942],[341.3,931],[342.9,942],[344,942],[345.1,958],[346.5,953],[347.4,1000]];
const pctXw2=[[319,950],[318.5,1000],[320.3,1000]];

const down=c=>c.concat([[359,1000],[0,1000]]);
/* paint order: [colour index, contour] (22 = unfilled, white) */
const pctLayers=[
[16,[[0,0],[359,0],[359,1000],[0,1000]]],
[17,down(pctB)],[18,down(pctC)],[17,down(pctD)],[16,down(pctE)],[15,down(pctF)],[14,down(pctG)],[15,pctLeftBlob],[14,pctRightBlob],[13,down(pctH)],[13,pctHBlobA],[13,pctHBlobB],[12,pctPaleA],[12,pctPaleB],
[12,pctW12],[11,pctW11a],[11,pctW11b],[11,pctW11c],[11,pctW11d],[12,pctSpike],
[13,pctSpikeA13],[14,pctSpikeA14],[15,pctSpikeA15],[13,pctSpikeB13],[14,pctSpikeB14],[15,pctSpikeB15],
[10,pctL10],[9,pctL9],[8,pctL8],[7,pctL7],[6,pctL6],[5,pctL5],[10,pctHill10],[11,pctHill11],[12,pctHill12],[13,pctHill13],[11,pctCol11],[12,pctCol12],[9,pctCol9],
[10,pctQ10],[9,pctQ9],[8,pctQ8],[7,pctQ7],[6,pctQ6],[5,pctQ5],[4,pctQ4],[3,pctQ3],[2,pctQ2],[1,pctQ1],[22,pctQw],
[10,pctMA10],[9,pctMA9],[8,pctMA8],[7,pctMA7],[6,pctMA6],[5,pctMA5],[4,pctMA4],[3,pctMA3],[2,pctMA2],[1,pctMA1],[22,pctMAw],[0,pctMA0],[16,pctSmall],
[13,pctC13],[14,pctC14],[15,pctC15],[16,pctC16],[17,pctC17],
[13,pctMB13],[15,pctMB15],[16,pctMB16],[17,pctMB17],[18,pctMB18],[19,pctMB19],[20,pctMB20],[22,pctMBw],
[10,pctK10],[7,pctK7],[5,pctK5],[4,pctK4],
[12,pctMC12],[15,pctMC15],[16,pctMC16],[17,pctMC17],[18,pctMC18],[19,pctMC19],[20,pctMC20],[22,pctMCw],
[9,pctE9a],[16,pctE16a],[5,pctE5a],[14,pctE14a],
[14,pctO14],[15,pctO15],[14,pctOlobe],[16,pctO16],[17,pctOspot1],[17,pctOspot2],[16,pctOspike],[17,pctOspot3],[15,pctLobe15],[14,pctLobe14],[12,pctLobe12],
[17,pctS17a],[20,pctS20a],[22,pctSwa],[9,pctS9],[14,pctS16b],[20,pctS20b],[18,pctS18b],[22,pctSwb],[11,pctS11c],[4,pctS4c],[1,pctS1c],[22,pctSwc],[17,pctS17d],
[13,pctR13],[12,pctR12],
[14,pctT14],[15,pctT15],[16,pctT16],[16,pctTdrop16],[15,pctTdrop15],
[13,pctW13],[12,pctW12b],[11,pctW11e],
[11,pctR11],[13,pctR11s],[10,pctR10],[9,pctR9],[8,pctR8],[7,pctR7],[6,pctR6],[5,pctR5],[4,pctR4],[3,pctR3],[2,pctR2],[1,pctR1],[0,pctR0],[22,pctRw],[0,pctRlens],
[10,pctCol10],[9,pctColA9],[11,pctColw],[7,pctColB7],[5,pctColB5],
[12,pctF12],[11,pctF11],[10,pctN10],[9,pctN9],[8,pctN8],[7,pctN7],[6,pctN6],[5,pctN5],[4,pctN4],[3,pctN3],[2,pctN2],[1,pctN1],[22,pctNw1],[22,pctNw2],
[16,pctG16],[13,pctG13],[11,pctG11],[11,pctH11],[9,pctH9],[8,pctH8],
[12,pctX12],[11,pctX11],[10,pctX10],[9,pctX9],[8,pctX8blob],[8,pctX8],[7,pctX7],[6,pctX6],[5,pctX5],
[12,pctY12],[13,pctY13],[14,pctY14],[15,pctY15],[16,pctY16],[17,pctY17],[17,pctY17b],[18,pctY18],[19,pctY19],[20,pctY20],[21,pctY21],[22,pctYw],
[11,pctZ11],[9,pctZ9],[7,pctZ7],[5,pctZ5],[3,pctZ3],[2,pctZ2],[22,pctZw],[5,pctZ5b],
[4,pctX4],[3,pctX3],[2,pctX2],[1,pctX1],[0,pctX0],[22,pctXw1],[22,pctXw2]
];

const testLayers=[
[blueColors[2],[[0,0],[359,0],[359,1000],[0,1000]]],
[blueColors[4],[[0,0],[359,0]].concat(testTop.slice().reverse())],
[blueColors[3],down(testTop)],[blueColors[4],down(testUpper)],[blueColors[5],testJetA],[blueColors[5],testJetB],[blueColors[5],testJetC],
[blueColors[3],down(testLower)],[blueColors[2],down(testLow)],
[blueColors[1],testSurfA],[blueColors[1],testSurfB],[blueColors[1],testSurfC],[blueColors[1],testSurfD]];
const baseLayers=[
[blueColors[3],[[0,0],[359,0],[359,1000],[0,1000]]],
[blueColors[4],down(baseUpper)],[blueColors[3],down(baseLower)],[blueColors[2],down(baseLow)],
[blueColors[1],baseSurfA],[blueColors[1],baseSurfB],[blueColors[1],baseSurfC]];
const diffLayers=[
[diffColors[7],[[0,0],[359,0],[359,1000],[0,1000]]],
[diffColors[8],[[0,0],[359,0]].concat(diffEdge.slice().reverse())]];
const pctShapes=pctLayers.map(l=>[pctColors[l[0]],l[1]]);

/* ---------- layout ---------- */
const PLOT_L=268,PLOT_W=2666,PLOT_H=582,Y_W=170,X_H=90,PAD=4,BAR_PAD=34;
const BAR_L=2962,BAR_W=29,LABEL_DROP=4;
const panelTops=[208,933,1615,2297];
const TICK_FONT={family:'"DejaVu Sans"',size:41.67};
const noPad=s=>{s.paddingTop=0;s.paddingBottom=0;s.paddingLeft=0;s.paddingRight=0;};
const frame={id:'frame',afterDraw(c){const a=c.chartArea,x=c.ctx;x.save();x.lineWidth=3.33;x.strokeStyle='#000';x.strokeRect(a.left,a.top,a.width,a.height);x.restore();}};
const common={responsive:false,animation:false,devicePixelRatio:1,events:[],plugins:{legend:{display:false},tooltip:{enabled:false},title:{display:false}}};
function canvas(l,t,w,h){const c=document.createElement('canvas');c.width=w;c.height=h;c.style.left=l+'px';c.style.top=t+'px';c.style.width=w+'px';c.style.height=h+'px';document.body.appendChild(c);return c;}
function panel(top,layers,showX){
  const cv=canvas(PLOT_L-Y_W,top-PAD,Y_W+PLOT_W+PAD,PAD+PLOT_H+X_H);
  const allY=pressureLevels.concat(pressureMajor);
  /* Chart.js paints the last dataset first, so the list is reversed to keep the painter's order */
  new Chart(cv,{type:'scatter',plugins:[frame],
    data:{datasets:layers.slice().reverse().map(l=>({data:l[1].map(p=>({x:p[0],y:p[1]})),showLine:true,pointRadius:0,borderWidth:0,borderColor:'transparent',backgroundColor:l[0],fill:'shape',tension:0}))},
    options:{...common,layout:{padding:{top:PAD,right:PAD,left:0,bottom:0}},
      scales:{
        x:{type:'linear',min:0,max:358.75,afterBuildTicks:s=>{s.ticks=lonTicks.map(v=>({value:v}));},afterFit:s=>{s.height=X_H;noPad(s);},
          border:{display:true,width:3.33,color:'#000'},
          grid:{drawOnChartArea:false,drawTicks:true,tickLength:14.6,tickWidth:3.33,tickColor:'#000'},
          ticks:{display:showX,font:TICK_FONT,color:'#000',padding:14,maxRotation:0,autoSkip:false}},
        y:{type:'linear',reverse:true,min:1,max:1000,afterBuildTicks:s=>{s.ticks=allY.map(v=>({value:v}));},afterFit:s=>{s.width=Y_W;noPad(s);},
          border:{display:true,width:3.33,color:'#000'},
          grid:{drawOnChartArea:false,drawTicks:true,tickLength:14.6,
            tickColor:c=>pressureMajor.includes(c.tick.value)?'#000':'#ff0000',
            tickWidth:c=>pressureMajor.includes(c.tick.value)?3.33:2.5},
          ticks:{font:TICK_FONT,color:'#000',padding:14,autoSkip:false,labelOffset:LABEL_DROP,callback:v=>pressureMajor.includes(v)?String(v):''}}
      }}});
}
function colorbar(top,levels,colors,majors,minors,label){
  const cv=canvas(BAR_L-PAD,top-BAR_PAD,PAD+BAR_W+171,BAR_PAD+PLOT_H+BAR_PAD);
  const tickAxis=(arr)=>s=>{s.ticks=arr.map(v=>({value:v}));};
  new Chart(cv,{type:'bar',plugins:[frame],
    data:{labels:[''],datasets:colors.map((c,i)=>({data:[[levels[i],levels[i+1]]],backgroundColor:c,borderWidth:0,grouped:false,barPercentage:1,categoryPercentage:1}))},
    options:{...common,layout:{padding:{top:BAR_PAD,left:PAD,right:0,bottom:BAR_PAD}},
      scales:{
        x:{display:false,type:'category',afterFit:noPad},
        y:{position:'right',min:levels[0],max:levels[levels.length-1],weight:2,afterBuildTicks:tickAxis(majors),afterFit:s=>{s.width=171;noPad(s);},
          border:{display:true,width:3.33,color:'#000'},
          grid:{drawOnChartArea:false,drawTicks:true,tickLength:14.6,tickWidth:3.33,tickColor:'#000'},
          ticks:{font:TICK_FONT,color:'#000',padding:14,autoSkip:false,labelOffset:LABEL_DROP,callback:label}},
        yMinor:{position:'right',min:levels[0],max:levels[levels.length-1],weight:1,afterBuildTicks:tickAxis(minors),afterFit:s=>{s.width=0;noPad(s);},
          border:{display:false},
          grid:{drawOnChartArea:false,drawTicks:true,tickLength:8.3,tickWidth:2.5,tickColor:'#000'},
          ticks:{display:false}}
      }}});
}
const minus=v=>String(v).replace('-','\u2212');
panel(panelTops[0],testLayers,false);
panel(panelTops[1],baseLayers,false);
panel(panelTops[2],diffLayers,false);
panel(panelTops[3],pctShapes,true);
colorbar(panelTops[0],blueLevels,blueColors,blueTicks,[],minus);
colorbar(panelTops[1],blueLevels,blueColors,blueTicks,[],minus);
colorbar(panelTops[2],diffLevels,diffColors,diffTicks,[],minus);
/* the % bar is evenly spaced by level index */
const pctIndex=pctLevels.map((v,i)=>i);
colorbar(panelTops[3],pctIndex,pctColors.slice(0,22),pctIndex.filter(i=>pctLabeled.includes(pctLevels[i])),pctIndex.filter(i=>!pctLabeled.includes(pctLevels[i])),i=>minus(pctLevels[i]));
</script>
</body></html>
